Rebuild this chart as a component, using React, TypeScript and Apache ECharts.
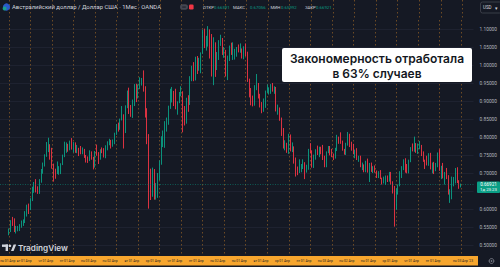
import React, { useEffect, useRef } from "react";
import * as echarts from "echarts";

// Monthly AUD/USD (OANDA), Apr 2002 .. Apr 2023. Open of each month = previous close.
const firstOpen = 0.533;
const closes = [
  0.541, 0.566, 0.563, 0.541, 0.543, 0.543, 0.556, 0.562, 0.563,
  0.587, 0.604, 0.603, 0.627, 0.653, 0.672, 0.652, 0.650, 0.680, 0.708, 0.726, 0.752,
  0.763, 0.775, 0.762, 0.719, 0.711, 0.697, 0.704, 0.712, 0.725, 0.747, 0.779, 0.781,
  0.773, 0.787, 0.773, 0.782, 0.761, 0.764, 0.760, 0.755, 0.764, 0.747, 0.734, 0.733,
  0.758, 0.741, 0.716, 0.761, 0.755, 0.743, 0.766, 0.764, 0.745, 0.774, 0.787, 0.789,
  0.775, 0.789, 0.808, 0.829, 0.827, 0.849, 0.855, 0.816, 0.886, 0.927, 0.880, 0.876,
  0.894, 0.934, 0.912, 0.944, 0.956, 0.963, 0.939, 0.858, 0.789, 0.665, 0.651, 0.702,
  0.636, 0.641, 0.694, 0.728, 0.800, 0.806, 0.835, 0.844, 0.882, 0.900, 0.916, 0.898,
  0.884, 0.894, 0.917, 0.925, 0.848, 0.843, 0.904, 0.890, 0.966, 0.980, 0.960, 1.022,
  0.997, 1.016, 1.034, 1.096, 1.068, 1.072, 1.098, 1.069, 0.969, 1.062, 1.022, 1.023,
  1.061, 1.071, 1.035, 1.041, 0.971, 1.024, 1.051, 1.032, 1.037, 1.038, 1.043, 1.038,
  1.042, 1.021, 1.041, 1.036, 0.957, 0.914, 0.898, 0.889, 0.933, 0.945, 0.909, 0.892,
  0.874, 0.893, 0.927, 0.929, 0.931, 0.942, 0.929, 0.934, 0.874, 0.880, 0.850, 0.817,
  0.777, 0.781, 0.762, 0.792, 0.764, 0.770, 0.730, 0.710, 0.702, 0.713, 0.723, 0.729,
  0.707, 0.713, 0.766, 0.760, 0.723, 0.745, 0.759, 0.752, 0.765, 0.760, 0.738, 0.722,
  0.758, 0.768, 0.764, 0.748, 0.743, 0.769, 0.800, 0.795, 0.783, 0.765, 0.756, 0.781,
  0.805, 0.777, 0.768, 0.753, 0.757, 0.740, 0.743, 0.720, 0.723, 0.708, 0.731, 0.705,
  0.727, 0.710, 0.710, 0.705, 0.693, 0.703, 0.684, 0.673, 0.675, 0.690, 0.676, 0.702,
  0.669, 0.651, 0.614, 0.652, 0.666, 0.690, 0.715, 0.737, 0.716, 0.703, 0.735, 0.770,
  0.765, 0.770, 0.760, 0.772, 0.773, 0.750, 0.734, 0.732, 0.723, 0.752, 0.712, 0.727,
  0.707, 0.726, 0.749, 0.707, 0.718, 0.688, 0.699, 0.685, 0.640, 0.640, 0.676, 0.681,
  0.706, 0.674, 0.66591, 0.66921,
];
const highs = [
  0.546, 0.569, 0.578, 0.574, 0.553, 0.553, 0.558, 0.568, 0.571,
  0.594, 0.612, 0.615, 0.630, 0.662, 0.675, 0.683, 0.663, 0.683, 0.711, 0.729, 0.752,
  0.786, 0.798, 0.780, 0.770, 0.726, 0.712, 0.732, 0.719, 0.727, 0.751, 0.787, 0.785,
  0.781, 0.790, 0.797, 0.786, 0.785, 0.778, 0.770, 0.775, 0.771, 0.767, 0.750, 0.746,
  0.763, 0.760, 0.745, 0.761, 0.779, 0.758, 0.766, 0.771, 0.769, 0.777, 0.788, 0.795,
  0.792, 0.793, 0.812, 0.836, 0.840, 0.851, 0.886, 0.863, 0.888, 0.929, 0.937, 0.889,
  0.904, 0.947, 0.948, 0.946, 0.966, 0.964, 0.985, 0.941, 0.880, 0.808, 0.712, 0.715,
  0.711, 0.672, 0.700, 0.735, 0.802, 0.818, 0.844, 0.854, 0.887, 0.934, 0.939, 0.928,
  0.934, 0.899, 0.925, 0.941, 0.927, 0.886, 0.909, 0.916, 0.969, 0.998, 1.008, 1.023,
  1.025, 1.020, 1.035, 1.098, 1.101, 1.081, 1.108, 1.099, 1.086, 1.077, 1.063, 1.036,
  1.069, 1.084, 1.075, 1.050, 1.042, 1.026, 1.054, 1.062, 1.063, 1.045, 1.050, 1.057,
  1.060, 1.046, 1.052, 1.060, 1.037, 0.962, 0.936, 0.915, 0.944, 0.975, 0.950, 0.920,
  0.897, 0.907, 0.929, 0.946, 0.938, 0.947, 0.950, 0.941, 0.939, 0.890, 0.882, 0.854,
  0.825, 0.791, 0.784, 0.809, 0.807, 0.785, 0.774, 0.743, 0.718, 0.738, 0.725, 0.738,
  0.730, 0.723, 0.767, 0.783, 0.763, 0.751, 0.766, 0.776, 0.773, 0.773, 0.778, 0.748,
  0.760, 0.775, 0.775, 0.767, 0.754, 0.770, 0.806, 0.801, 0.813, 0.790, 0.767, 0.784,
  0.814, 0.809, 0.787, 0.781, 0.765, 0.769, 0.748, 0.748, 0.729, 0.724, 0.734, 0.740,
  0.728, 0.729, 0.719, 0.721, 0.707, 0.705, 0.708, 0.687, 0.690, 0.693, 0.693, 0.703,
  0.703, 0.677, 0.664, 0.657, 0.668, 0.705, 0.719, 0.738, 0.741, 0.725, 0.737, 0.772,
  0.782, 0.801, 0.783, 0.782, 0.789, 0.778, 0.760, 0.737, 0.748, 0.755, 0.756, 0.729,
  0.731, 0.728, 0.757, 0.766, 0.720, 0.728, 0.703, 0.714, 0.694, 0.655, 0.690, 0.689,
  0.714, 0.716, 0.680, 0.67056,
];
const lows = [
  0.527, 0.536, 0.553, 0.536, 0.532, 0.538, 0.539, 0.548, 0.553,
  0.561, 0.579, 0.586, 0.597, 0.622, 0.645, 0.646, 0.642, 0.642, 0.673, 0.698, 0.718,
  0.745, 0.758, 0.737, 0.712, 0.676, 0.684, 0.697, 0.695, 0.697, 0.722, 0.744, 0.756,
  0.759, 0.763, 0.765, 0.757, 0.756, 0.755, 0.747, 0.752, 0.752, 0.742, 0.729, 0.728,
  0.733, 0.737, 0.710, 0.715, 0.748, 0.725, 0.737, 0.755, 0.743, 0.741, 0.763, 0.777,
  0.768, 0.773, 0.780, 0.806, 0.815, 0.820, 0.846, 0.768, 0.811, 0.880, 0.864, 0.856,
  0.853, 0.886, 0.897, 0.907, 0.933, 0.943, 0.926, 0.854, 0.780, 0.601, 0.625, 0.634,
  0.626, 0.626, 0.631, 0.680, 0.723, 0.772, 0.770, 0.815, 0.834, 0.878, 0.896, 0.886,
  0.877, 0.862, 0.894, 0.913, 0.813, 0.832, 0.837, 0.870, 0.889, 0.955, 0.955, 0.957,
  0.975, 0.984, 0.977, 1.031, 1.047, 1.040, 1.051, 1.018, 0.968, 0.944, 0.967, 0.986,
  1.014, 1.053, 1.028, 1.020, 0.968, 0.958, 1.011, 1.028, 1.014, 1.015, 1.023, 1.035,
  1.034, 1.018, 1.016, 1.025, 0.953, 0.910, 0.888, 0.885, 0.887, 0.930, 0.907, 0.882,
  0.866, 0.870, 0.881, 0.923, 0.918, 0.920, 0.926, 0.920, 0.871, 0.862, 0.845, 0.803,
  0.768, 0.763, 0.756, 0.753, 0.760, 0.758, 0.726, 0.690, 0.694, 0.700, 0.702, 0.711,
  0.683, 0.701, 0.709, 0.755, 0.715, 0.714, 0.737, 0.750, 0.744, 0.752, 0.736, 0.716,
  0.716, 0.755, 0.749, 0.744, 0.736, 0.740, 0.761, 0.781, 0.781, 0.762, 0.751, 0.750,
  0.776, 0.772, 0.762, 0.752, 0.741, 0.736, 0.731, 0.716, 0.708, 0.702, 0.702, 0.701,
  0.675, 0.703, 0.700, 0.701, 0.686, 0.686, 0.683, 0.668, 0.671, 0.667, 0.675, 0.676,
  0.668, 0.643, 0.551, 0.598, 0.640, 0.663, 0.686, 0.708, 0.701, 0.699, 0.699, 0.730,
  0.760, 0.759, 0.756, 0.753, 0.766, 0.747, 0.731, 0.711, 0.721, 0.720, 0.710, 0.699,
  0.697, 0.705, 0.716, 0.706, 0.683, 0.685, 0.668, 0.683, 0.640, 0.617, 0.627, 0.663,
  0.671, 0.672, 0.656, 0.65992,
];

// axis layout: empty months before first candle (Nov 2001..Mar 2002) and after last
const padBefore = 5;
const padAfter = 7;
const firstYear = 2001;
const firstMonth = 11;

const dateLabels = [
  "пн 01 Апр", "вт 01 Апр", "чт 01 Апр", "пт 01 Апр", "пн 03 Апр", "пн 02 Апр",
  "вт 01 Апр", "ср 01 Апр", "чт 01 Апр", "пт 01 Апр", "пн 02 Апр", "пн 01 Апр",
  "вт 01 Апр", "ср 01 Апр", "пт 01 Апр", "пн 03 Апр", "пн 02 Апр", "пн 01 Апр",
  "ср 01 Апр", "чт 01 Апр", "пт 01 Апр", "пн 03 Апр '23",
];

const yMin = 0.45;
const yMax = 1.125;
const yStep = 0.05;

const titleText = "Австралийский доллар / Доллар США · 1Мес · OANDA";
const ohlcLabels = ["ОТКР", "МАКС", "МИН", "ЗАКР"];
const ohlcValues = ["0.66591", "0.67056", "0.65992", "0.66921"];
const countdownText = "1д 23:23";
const noteLines = ["Закономерность отработала", "в 63% случаев"];

const BG = "#151924";
const UP = "#0a9f86";
const DOWN = "#f23645";
const DOT = "rgba(230,145,40,0.42)";

export default function App() {
  const ref = useRef<HTMLDivElement>(null);

  useEffect(() => {
    if (!ref.current) return;
    const chart = echarts.init(ref.current, undefined, { renderer: "svg" });

    const total = padBefore + closes.length + padAfter;
    const cats: string[] = [];
    for (let i = 0; i < total; i++) {
      const m = firstMonth - 1 + i;
      const y = firstYear + Math.floor(m / 12);
      cats.push(y + "-" + String((m % 12) + 1).padStart(2, "0"));
    }
    const rows = closes.map((c, i) => [
      padBefore + i,
      i === 0 ? firstOpen : closes[i - 1],
      c,
      lows[i],
      highs[i],
    ]);
    const lastClose = closes[closes.length - 1];
    const isTick = (idx: number) => idx >= padBefore && (idx - padBefore) % 12 === 0;

    const xBase = {
      type: "category",
      data: cats,
      boundaryGap: false,
      axisLine: { show: false },
      axisTick: { show: false },
      axisLabel: { show: false },
      splitLine: {
        show: true,
        interval: (idx: number) => isTick(idx),
        lineStyle: { color: DOT, type: [1.5, 2.5], width: 1 },
      },
    };

    chart.setOption({
      animation: false,
      backgroundColor: BG,
      grid: [
        { left: 0, right: 25, top: 20, bottom: 4 },
        { left: 0, right: 25, top: 0, height: 20 },
      ],
      xAxis: [
        { ...xBase, gridIndex: 0 },
        { ...xBase, gridIndex: 1 },
      ],
      yAxis: [
        {
          gridIndex: 0,
          type: "value",
          position: "right",
          min: yMin,
          max: yMax,
          interval: yStep,
          axisLine: { show: false },
          axisTick: { show: false },
          axisLabel: {
            color: "#b2b5be",
            fontSize: 4.8,
            fontFamily: "Roboto",
            margin: 6,
            showMaxLabel: false,
            showMinLabel: false,
            formatter: (v: number) => v.toFixed(5),
          },
          splitLine: {
            show: true,
            showMinLine: false,
            showMaxLine: false,
            lineStyle: { color: "#1e2230", width: 1 },
          },
        },
        { gridIndex: 1, type: "value", min: 0, max: 1, show: false },
      ],
      series: [
        {
          type: "candlestick",
          xAxisIndex: 0,
          yAxisIndex: 0,
          dimensions: ["idx", "open", "close", "lowest", "highest"],
          encode: { x: "idx", y: ["open", "close", "lowest", "highest"] },
          data: rows,
          barWidth: 1.3,
          itemStyle: {
            color: UP,
            color0: DOWN,
            borderColor: UP,
            borderColor0: DOWN,
            borderWidth: 0.9,
          },
          markLine: {
            silent: true,
            symbol: "none",
            label: { show: false },
            lineStyle: { color: "rgba(8,153,129,0.5)", type: [1, 1.5], width: 1 },
            data: [{ yAxis: lastClose }],
          },
        },
      ],
    });

    const g: any[] = [];
    // date bar
    g.push({ type: "rect", shape: { x: 0, y: 256, width: 478, height: 9.6 }, style: { fill: "#f7a62e" }, z: 10 });
    dateLabels.forEach((t, k) => {
      const idx = padBefore + 12 * k;
      const px = chart.convertToPixel({ xAxisIndex: 0 }, cats[idx]) as number;
      const last = k === dateLabels.length - 1;
      const first = k === 0;
      g.push({
        type: "text",
        z: 11,
        style: {
          text: t,
          x: first ? 0.2 : last ? px + 2 : px + 1,
          y: 261,
          fill: "#1a1d26",
          font: "3.3px Roboto",
          textAlign: first ? "left" : last ? "center" : "right",
          textVerticalAlign: "middle",
        },
      });
    });
    // gear
    g.push({ type: "circle", z: 11, shape: { cx: 491.5, cy: 261, r: 2.4 }, style: { fill: "none", stroke: "#787b86", lineWidth: 1 } });
    g.push({ type: "circle", z: 11, shape: { cx: 491.5, cy: 261, r: 0.8 }, style: { fill: "#787b86" } });

    // current price label
    const py = chart.convertToPixel({ yAxisIndex: 0 }, lastClose) as number;
    g.push({ type: "rect", z: 10, shape: { x: 477, y: py - 2.5, width: 23, height: 11.5, r: 1 }, style: { fill: UP } });
    g.push({ type: "text", z: 11, style: { text: lastClose.toFixed(5), x: 488.5, y: py + 0.7, fill: "#ffffff", font: "4.6px Roboto", textAlign: "center", textVerticalAlign: "middle" } });
    g.push({ type: "text", z: 11, style: { text: countdownText, x: 488.5, y: py + 5.8, fill: "#ffffff", font: "4.3px Roboto", textAlign: "center", textVerticalAlign: "middle" } });

    // header
    g.push({ type: "circle", z: 10, shape: { cx: 6.5, cy: 7, r: 3.6 }, style: { fill: "#2b5ac9" } });
    g.push({ type: "circle", z: 10, shape: { cx: 4.6, cy: 8.6, r: 2.0 }, style: { fill: "#1a9e8f" } });
    g.push({ type: "text", z: 10, style: { text: titleText, x: 12, y: 7, fill: "#d1d4dc", font: "5.9px Roboto", textVerticalAlign: "middle" } });
    g.push({ type: "rect", z: 10, shape: { x: 180, y: 4.3, width: 8, height: 5.4, r: 2.7 }, style: { fill: "#434651" } });
    g.push({ type: "rect", z: 10, shape: { x: 182.2, y: 6.6, width: 3.6, height: 0.9 }, style: { fill: "#131722" } });
    g.push({ type: "rect", z: 10, shape: { x: 189, y: 4.6, width: 4.6, height: 4.8, r: 1.2 }, style: { fill: DOWN } });
    const lx = [203, 233, 270.5, 305];
    const vx = [214, 250, 281, 316];
    ohlcLabels.forEach((t, i) => {
      g.push({ type: "text", z: 10, style: { text: t, x: lx[i], y: 7, fill: "#d1d4dc", font: "4.3px Roboto", textVerticalAlign: "middle" } });
      g.push({ type: "text", z: 10, style: { text: ohlcValues[i], x: vx[i], y: 7, fill: UP, font: "4.3px Roboto", textVerticalAlign: "middle" } });
    });
    g.push({ type: "rect", z: 10, shape: { x: 480.5, y: 2, width: 21, height: 11, r: 2 }, style: { fill: BG, stroke: "#434651", lineWidth: 0.8 } });
    g.push({ type: "text", z: 11, style: { text: "USD", x: 483, y: 7.5, fill: "#d1d4dc", font: "4.5px Roboto", textVerticalAlign: "middle" } });
    g.push({ type: "text", z: 11, style: { text: "▾", x: 494.5, y: 7.5, fill: "#d1d4dc", font: "5px Roboto", textVerticalAlign: "middle" } });

    // TradingView logo
    g.push({ type: "rect", z: 10, shape: { x: 2, y: 244.5, width: 6, height: 2.4 }, style: { fill: "#d1d4dc" } });
    g.push({ type: "rect", z: 10, shape: { x: 5.6, y: 244.5, width: 2.4, height: 6.5 }, style: { fill: "#d1d4dc" } });
    g.push({ type: "circle", z: 10, shape: { cx: 9.9, cy: 245.8, r: 1.3 }, style: { fill: "#d1d4dc" } });
    g.push({ type: "polygon", z: 10, shape: { points: [[11, 251], [13.6, 244.5], [16.2, 244.5], [13.6, 251]] }, style: { fill: "#d1d4dc" } });
    g.push({ type: "text", z: 10, style: { text: "TradingView", x: 18, y: 248, fill: "#d1d4dc", font: "600 8.2px Inter", textVerticalAlign: "middle" } });

    // annotation
    g.push({ type: "rect", z: 12, shape: { x: 282, y: 48, width: 190, height: 34, r: 2 }, style: { fill: "#ffffff" } });
    g.push({ type: "text", z: 13, style: { text: noteLines[0], x: 377, y: 58, fill: "#131722", font: "600 12px Inter", textAlign: "center", textVerticalAlign: "middle" } });
    g.push({ type: "text", z: 13, style: { text: noteLines[1], x: 377, y: 73.5, fill: "#131722", font: "600 12px Inter", textAlign: "center", textVerticalAlign: "middle" } });

    chart.setOption({ graphic: g });

    return () => chart.dispose();
  }, []);

  return (
    <div
      ref={ref}
      style={{ position: "fixed", left: 0, top: 0, width: 500, height: 267, background: BG }}
    />
  );
}
